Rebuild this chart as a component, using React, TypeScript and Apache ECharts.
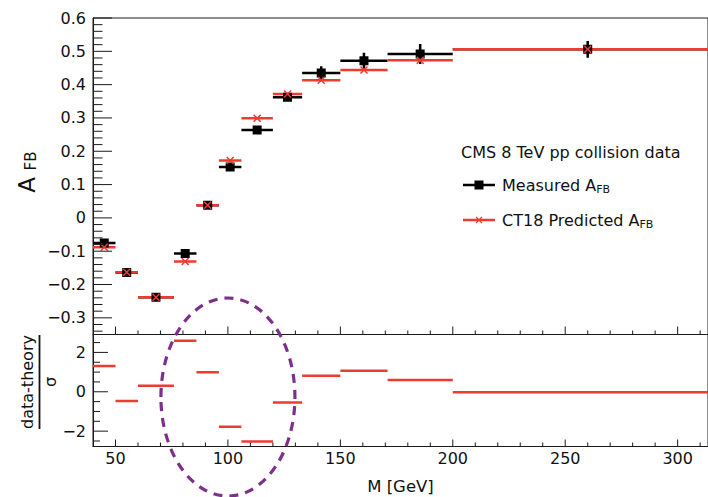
import React, { useEffect, useRef } from 'react';
import * as echarts from 'echarts';

// Mass bins [GeV]
const binLow = [40, 50, 60, 76, 86, 96, 106, 120, 133, 150, 171, 200];
const binHigh = [50, 60, 76, 86, 96, 106, 120, 133, 150, 171, 200, 320];
const binCenter = [45, 55, 68, 81, 91, 101, 113, 126.5, 141.5, 160.5, 185.5, 260];
// Measured A_FB and its uncertainty
const measured = [-0.075, -0.164, -0.238, -0.107, 0.038, 0.153, 0.264, 0.362, 0.435, 0.472, 0.492, 0.506];
const measuredErr = [0.008, 0.006, 0.006, 0.007, 0.006, 0.007, 0.01, 0.01, 0.02, 0.024, 0.03, 0.025];
// CT18 predicted A_FB
const predicted = [-0.088, -0.163, -0.238, -0.131, 0.038, 0.172, 0.299, 0.372, 0.413, 0.444, 0.473, 0.506];
// (data - theory) / sigma
const pulls = [1.31, -0.47, 0.3, 2.59, 0.99, -1.78, -2.52, -0.54, 0.82, 1.07, 0.6, -0.03];
// Tick labels
const afbTicks = [-0.3, -0.2, -0.1, 0, 0.1, 0.2, 0.3, 0.4, 0.5, 0.6];
const pullTicks = [-2, 0, 2];
const massTicks = [50, 100, 150, 200, 250, 300];

const FONT = '"DejaVu Sans", "Liberation Sans", sans-serif';
const RED = '#EE3B2F';
const BLACK = '#000000';
const PURPLE = '#7E2F8E';
const AXIS = '#1a1a1a';

const X_MIN = 40;
const X_MAX = 313.5;
const AFB_MIN = -0.35;
const AFB_MAX = 0.6;
const PULL_MIN = -2.78;
const PULL_MAX = 2.91;

function minorValues(start: number, end: number, step: number, majors: number[]) {
  const out: number[] = [];
  const n = Math.round((end - start) / step);
  for (let i = 0; i <= n; i++) {
    const v = Math.round((start + i * step) * 1000) / 1000;
    if (!majors.some((m) => Math.abs(m - v) < 1e-9)) out.push(v);
  }
  return out;
}

const fmtMinus = (v: number, digits: number) => {
  if (Math.abs(v) < 1e-9) return '0';
  const s = Math.abs(v).toFixed(digits);
  return v < 0 ? '\u2212' + s : s;
};

function hBarRender(color: string, withErr: boolean) {
  return (params: any, api: any) => {
    const y = api.value(3);
    const p1 = api.coord([api.value(0), y]);
    const p2 = api.coord([api.value(1), y]);
    const children: any[] = [
      { type: 'line', shape: { x1: p1[0], y1: p1[1], x2: p2[0], y2: p2[1] }, style: { stroke: color, lineWidth: 2.5 } },
    ];
    if (withErr) {
      const e = api.value(4);
      const t = api.coord([api.value(2), y + e]);
      const b = api.coord([api.value(2), y - e]);
      children.push({ type: 'line', shape: { x1: t[0], y1: t[1], x2: b[0], y2: b[1] }, style: { stroke: color, lineWidth: 2.5 } });
    }
    return { type: 'group', children };
  };
}

function squareRender(params: any, api: any) {
  const c = api.coord([api.value(2), api.value(3)]);
  return { type: 'rect', shape: { x: c[0] - 4.5, y: c[1] - 4.5, width: 9, height: 9 }, style: { fill: BLACK } };
}

function crossRender(params: any, api: any) {
  const c = api.coord([api.value(2), api.value(3)]);
  const d = 3.5;
  return {
    type: 'group',
    children: [
      { type: 'line', shape: { x1: c[0] - d, y1: c[1] - d, x2: c[0] + d, y2: c[1] + d }, style: { stroke: RED, lineWidth: 1.5 } },
      { type: 'line', shape: { x1: c[0] - d, y1: c[1] + d, x2: c[0] + d, y2: c[1] - d }, style: { stroke: RED, lineWidth: 1.5 } },
    ],
  };
}

// axis tick marks (inside), placed through the axes' own scales
function xTickRender(len: number) {
  return (params: any, api: any) => {
    const p = api.coord([api.value(0), api.value(1)]);
    return { type: 'line', shape: { x1: p[0], y1: p[1], x2: p[0], y2: p[1] - len }, style: { stroke: AXIS, lineWidth: 1 } };
  };
}
function yTickRender(len: number) {
  return (params: any, api: any) => {
    const p = api.coord([api.value(0), api.value(1)]);
    return { type: 'line', shape: { x1: p[0], y1: p[1], x2: p[0] + len, y2: p[1] }, style: { stroke: AXIS, lineWidth: 1 } };
  };
}

export default function App() {
  const ref = useRef<HTMLDivElement>(null);
  useEffect(() => {
    document.body.style.margin = '0';
    const chart = echarts.init(ref.current!, null, { renderer: 'svg' });

    const measData = binLow.map((lo, i) => [lo, binHigh[i], binCenter[i], measured[i], measuredErr[i]]);
    const predData = binLow.map((lo, i) => [lo, binHigh[i], binCenter[i], predicted[i]]);
    const pullData = binLow.map((lo, i) => [lo, binHigh[i], binCenter[i], pulls[i]]);

    const massMinor = minorValues(60, 310, 10, massTicks);
    const afbMinor = minorValues(-0.34, 0.58, 0.02, afbTicks);
    const pullMinor = [-2.5, -1.5, -1, -0.5, 0.5, 1, 1.5, 2.5];

    const axisLine = { show: true, onZero: false, lineStyle: { color: AXIS, width: 1 } };
    const labelStyle = { fontFamily: FONT, fontSize: 16, color: '#111' };

    const tickSeries = (xi: number, yi: number, data: number[][], render: any) => ({
      type: 'custom', xAxisIndex: xi, yAxisIndex: yi, clip: false, silent: true,
      renderItem: render, encode: { x: [0], y: [1] }, data, z: 5,
    });

    const option: any = {
      animation: false,
      grid: [
        { left: 93, top: 18, width: 615, height: 316.5, show: true, borderColor: AXIS, borderWidth: 1, backgroundColor: 'transparent' },
        { left: 93, top: 334.5, width: 615, height: 112, show: true, borderColor: AXIS, borderWidth: 1, backgroundColor: 'transparent' },
      ],
      xAxis: [
        {
          type: 'value', gridIndex: 0, min: X_MIN, max: X_MAX, position: 'bottom',
          axisLine, splitLine: { show: false }, axisTick: { show: false }, axisLabel: { show: false },
        },
        {
          type: 'value', gridIndex: 1, min: X_MIN, max: X_MAX, position: 'bottom',
          axisLine, splitLine: { show: false }, axisTick: { show: false },
          axisLabel: { show: true, customValues: massTicks, margin: 4, ...labelStyle },
          name: 'M [GeV]', nameLocation: 'middle', nameGap: 31,
          nameTextStyle: { fontFamily: FONT, fontSize: 16.5, color: '#111' },
        },
      ],
      yAxis: [
        {
          type: 'value', gridIndex: 0, min: AFB_MIN, max: AFB_MAX, position: 'left',
          axisLine, splitLine: { show: false }, axisTick: { show: false },
          axisLabel: { show: true, customValues: afbTicks, margin: 7, formatter: (v: number) => fmtMinus(v, 1), ...labelStyle },
        },
        {
          type: 'value', gridIndex: 1, min: PULL_MIN, max: PULL_MAX, position: 'left',
          axisLine, splitLine: { show: false }, axisTick: { show: false },
          axisLabel: { show: true, customValues: pullTicks, margin: 7, formatter: (v: number) => fmtMinus(v, 0), ...labelStyle },
        },
      ],
      series: [
        { type: 'custom', name: 'Measured bins', xAxisIndex: 0, yAxisIndex: 0, clip: true, renderItem: hBarRender(BLACK, true), encode: { x: [0, 1, 2], y: [3] }, data: measData },
        { type: 'custom', name: 'CT18 bins', xAxisIndex: 0, yAxisIndex: 0, clip: true, renderItem: hBarRender(RED, false), encode: { x: [0, 1, 2], y: [3] }, data: predData },
        { type: 'custom', name: 'Measured', xAxisIndex: 0, yAxisIndex: 0, clip: true, renderItem: squareRender, encode: { x: [2], y: [3] }, data: measData },
        { type: 'custom', name: 'CT18', xAxisIndex: 0, yAxisIndex: 0, clip: true, renderItem: crossRender, encode: { x: [2], y: [3] }, data: predData },
        { type: 'custom', name: 'Pull', xAxisIndex: 1, yAxisIndex: 1, clip: true, renderItem: hBarRender(RED, false), encode: { x: [0, 1, 2], y: [3] }, data: pullData },
        // tick marks
        tickSeries(0, 0, massTicks.map((v) => [v, AFB_MIN]), xTickRender(8)),
        tickSeries(0, 0, massMinor.map((v) => [v, AFB_MIN]), xTickRender(4)),
        tickSeries(1, 1, massTicks.map((v) => [v, PULL_MIN]), xTickRender(7)),
        tickSeries(1, 1, massMinor.map((v) => [v, PULL_MIN]), xTickRender(4)),
        tickSeries(0, 0, afbTicks.map((v) => [X_MIN, v]), yTickRender(19)),
        tickSeries(0, 0, afbMinor.map((v) => [X_MIN, v]), yTickRender(9.5)),
        tickSeries(1, 1, pullTicks.map((v) => [X_MIN, v]), yTickRender(15)),
        tickSeries(1, 1, pullMinor.map((v) => [X_MIN, v]), yTickRender(7)),
      ],
    };
    chart.setOption(option);

    const cx = chart.convertToPixel({ xAxisIndex: 1 } as any, 100) as number;

    const subRich = (main: number, sub: number, pad: number) => ({
      m: { fontFamily: FONT, fontSize: main, fill: '#111', verticalAlign: 'middle' },
      s: { fontFamily: FONT, fontSize: sub, fill: '#111', verticalAlign: 'middle', padding: [pad, 0, 0, 0] },
    });
    const rotText = (id: string, x: number, y: number, text: string, size: number) => ({
      type: 'group', id, x, y, rotation: Math.PI / 2,
      children: [
        {
          type: 'text', id: id + '_t', x: 0, y: 0,
          style: { text, font: `${size}px ${FONT}`, fill: '#111', align: 'center', verticalAlign: 'middle', textAlign: 'center', textVerticalAlign: 'middle' },
        },
      ],
    });

    chart.setOption({
      graphic: [
        // Legend
        { type: 'text', id: 'lgTitle', x: 461, y: 152, style: { text: 'CMS 8 TeV pp collision data', font: `16px ${FONT}`, fill: '#111', align: 'left', verticalAlign: 'middle', textAlign: 'left', textVerticalAlign: 'middle' } },
        { type: 'line', id: 'lgL1', shape: { x1: 463, y1: 185, x2: 495, y2: 185 }, style: { stroke: BLACK, lineWidth: 2.5 } },
        { type: 'rect', id: 'lgS1', shape: { x: 474.5, y: 180.5, width: 9, height: 9 }, style: { fill: BLACK } },
        { type: 'text', id: 'lgT1', x: 502, y: 185, style: { text: '{m|Measured A}{s|FB}', rich: subRich(16, 11, 8), align: 'left', verticalAlign: 'middle', textAlign: 'left', textVerticalAlign: 'middle' } },
        { type: 'line', id: 'lgL2', shape: { x1: 463, y1: 220, x2: 495, y2: 220 }, style: { stroke: RED, lineWidth: 2.5 } },
        { type: 'line', id: 'lgX2a', shape: { x1: 476, y1: 217, x2: 482, y2: 223 }, style: { stroke: RED, lineWidth: 1.3 } },
        { type: 'line', id: 'lgX2b', shape: { x1: 476, y1: 223, x2: 482, y2: 217 }, style: { stroke: RED, lineWidth: 1.3 } },
        { type: 'text', id: 'lgT2', x: 502, y: 220, style: { text: '{m|CT18 Predicted A}{s|FB}', rich: subRich(16, 11, 8), align: 'left', verticalAlign: 'middle', textAlign: 'left', textVerticalAlign: 'middle' } },
        // upper panel Y title A_FB (rotated)
        rotText('yTitleA', 27, 185, 'A', 23),
        rotText('yTitleFB', 31, 161, 'FB', 15),
        // lower panel Y title as a fraction
        rotText('yTitle2a', 27, 382, 'data-theory', 16),
        { type: 'line', id: 'yTitle2line', shape: { x1: 39.5, y1: 335, x2: 39.5, y2: 429 }, style: { stroke: '#111', lineWidth: 1.8 } },
        rotText('yTitle2b', 50, 382, '\u03c3', 16),
        // Highlight ellipse
        { type: 'ellipse', id: 'hl', z: 100, shape: { cx: cx, cy: 397, rx: 67, ry: 99 }, style: { fill: 'none', stroke: PURPLE, lineWidth: 3.2, lineDash: [9, 7] } },
      ],
    });

    return () => chart.dispose();
  }, []);
  return <div ref={ref} style={{ width: 708, height: 497 }} />;
}
